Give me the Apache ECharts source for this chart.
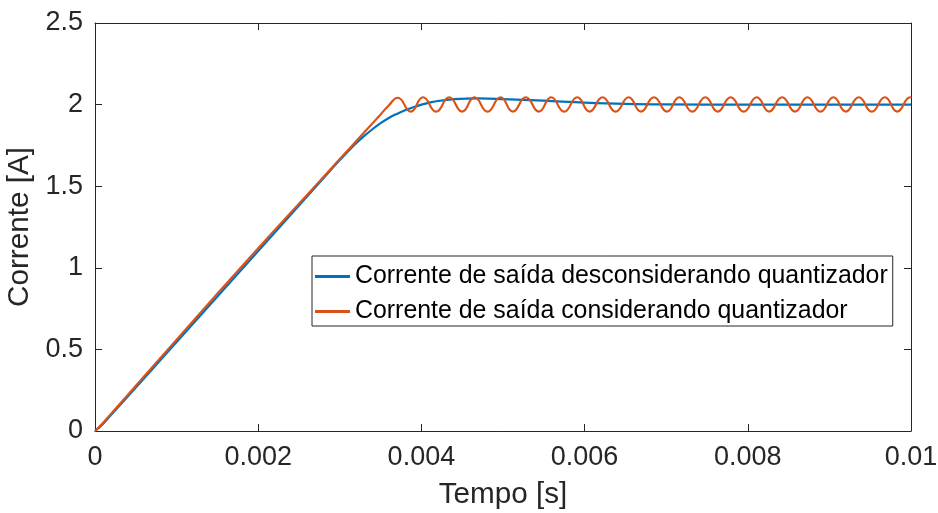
<!DOCTYPE html>
<html>
<head>
<meta charset="utf-8">
<style>
  html, body { margin: 0; padding: 0; background: #fff; }
  #chart { width: 938px; height: 513px; }
</style>
<script src="https://cdn.jsdelivr.net/npm/echarts@6/dist/echarts.min.js"></script>
</head>
<body>
<div id="chart"></div>
<script>
const xTickLabels = ['0', '0.002', '0.004', '0.006', '0.008', '0.01'];
const yTickLabels = ['0', '0.5', '1', '1.5', '2', '2.5'];

const seriesNames = [
  'Corrente de saída desconsiderando quantizador',
  'Corrente de saída considerando quantizador',
];

// sem quantizador (azul)
const timeBlue = [0, 0.0001, 0.001, 0.002, 0.0025, 0.0029, 0.003, 0.0031, 0.0032, 0.0033,
  0.0034, 0.0035, 0.0036, 0.0037, 0.0038, 0.0039, 0.004, 0.0041, 0.0042, 0.0044,
  0.0047, 0.005, 0.0055, 0.006, 0.0065, 0.007, 0.008, 0.01];
const currentBlue = [0, 0.045, 0.545, 1.103, 1.382, 1.605, 1.66, 1.713, 1.763, 1.808,
  1.849, 1.886, 1.918, 1.943, 1.965, 1.984, 2.0, 2.012, 2.022, 2.033,
  2.038, 2.034, 2.024, 2.012, 2.004, 2.001, 2.0, 2.0];

// com quantizador (laranja)
const timeOrange = [0, 0.0001, 0.001, 0.002, 0.0025, 0.003, 0.0033, 0.0035, 0.0036,
  0.00371, 0.00387, 0.00402, 0.00418, 0.00434, 0.0045, 0.00465, 0.00481,
  0.00497, 0.00512, 0.00528, 0.00544, 0.00559, 0.00575, 0.00591, 0.00606,
  0.00622, 0.00638, 0.00654, 0.00669, 0.00685, 0.00701, 0.00716, 0.00732,
  0.00748, 0.00763, 0.00779, 0.00795, 0.00811, 0.00826, 0.00842, 0.00858,
  0.00873, 0.00889, 0.00905, 0.0092, 0.00936, 0.00952, 0.00968, 0.00983,
  0.00999, 0.01];
const currentOrange = [0, 0.05, 0.56, 1.12, 1.393, 1.666, 1.83, 1.94, 1.995,
  2.042, 1.957, 2.045, 1.957, 2.045, 1.957, 2.045, 1.957,
  2.045, 1.957, 2.045, 1.957, 2.045, 1.957, 2.045, 1.957,
  2.045, 1.957, 2.045, 1.957, 2.045, 1.957, 2.045, 1.957,
  2.045, 1.957, 2.045, 1.957, 2.045, 1.957, 2.045, 1.957,
  2.045, 1.957, 2.045, 1.957, 2.045, 1.957, 2.045, 1.957,
  2.045, 2.04];

const chartBlock = document.getElementById('chart');
const font = 'Liberation Sans, Arial, Helvetica, sans-serif';
const ink = '#262626';

const pairs = (xs, ys) => xs.map((x, i) => [x, ys[i]]);
const xLabel = (v) => xTickLabels[Math.round(v / 0.002)] || '';
const yLabel = (v) => yTickLabels[Math.round(v / 0.5)] || '';

const boxAxis = {
  axisLine: { show: true, onZero: false, lineStyle: { color: ink, width: 1 } },
  axisTick: { show: true, inside: true, length: 7, lineStyle: { color: ink } },
  splitLine: { show: false },
};

const option = {
  animation: false,
  backgroundColor: '#fff',
  color: ['#0072BD', '#D95319'],
  grid: {
    left: 95,
    right: 27,
    top: 23,
    bottom: 82,
    outerBoundsMode: 'none',
  },
  legend: {
    orient: 'vertical',
    left: 312,
    top: 256,
    padding: [8, 5, 2, 3],
    itemGap: 10,
    itemWidth: 35,
    itemHeight: 3,
    icon: 'rect',
    backgroundColor: '#fff',
    borderColor: ink,
    borderWidth: 1,
    borderRadius: 0,
    textStyle: { fontFamily: font, fontSize: 24.9, color: '#000', padding: [0, 0, 0, 0] },
    data: seriesNames,
  },
  xAxis: [
    {
      type: 'value',
      min: 0,
      max: 0.01,
      interval: 0.002,
      name: 'Tempo [s]',
      nameLocation: 'middle',
      nameGap: 49,
      nameTextStyle: { fontFamily: font, fontSize: 29.7, color: ink },
      axisLabel: { formatter: xLabel, fontFamily: font, fontSize: 27, color: ink, margin: 13 },
      ...boxAxis,
    },
    {
      type: 'value',
      position: 'top',
      min: 0,
      max: 0.01,
      interval: 0.002,
      axisLabel: { show: false },
      ...boxAxis,
    },
  ],
  yAxis: [
    {
      type: 'value',
      min: 0,
      max: 2.5,
      interval: 0.5,
      name: 'Corrente [A]',
      nameLocation: 'middle',
      nameGap: 56,
      nameTextStyle: { fontFamily: font, fontSize: 29.7, color: ink },
      axisLabel: { formatter: yLabel, fontFamily: font, fontSize: 27, color: ink, margin: 12 },
      ...boxAxis,
    },
    {
      type: 'value',
      position: 'right',
      min: 0,
      max: 2.5,
      interval: 0.5,
      axisLabel: { show: false },
      ...boxAxis,
    },
  ],
  series: [
    {
      name: seriesNames[0],
      type: 'line',
      data: pairs(timeBlue, currentBlue),
      smooth: 0.4,
      showSymbol: false,
      lineStyle: { width: 2.2 },
    },
    {
      name: seriesNames[1],
      type: 'line',
      data: pairs(timeOrange, currentOrange),
      smooth: 0.5,
      showSymbol: false,
      lineStyle: { width: 2.2 },
    },
  ],
};

const chart = echarts.init(chartBlock);
chart.setOption(option);
window.addEventListener('resize', () => chart.resize());
</script>
</body>
</html>
